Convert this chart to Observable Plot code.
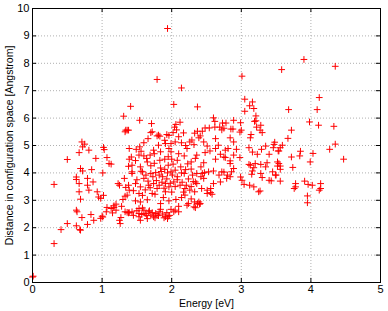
<!DOCTYPE html>
<html>
<head>
<meta charset="utf-8">
<script src="https://cdn.jsdelivr.net/npm/d3@7"></script>
<script src="https://cdn.jsdelivr.net/npm/@observablehq/plot@0.6"></script>
<style>
  html, body { margin: 0; padding: 0; background: #fff; }
  #chart { width: 388px; height: 311px; }
</style>
</head>
<body>
<div id="chart"></div>
<script>
// Tick values
const xTicks = [0, 1, 2, 3, 4, 5];
const yTicks = [0, 1, 2, 3, 4, 5, 6, 7, 8, 9, 10];
const xLabel = "Energy [eV]";
const yLabel = "Distance in configuration space [Angstrom]";

// [energy eV, distance Angstrom], grouped by region
const leftPoints = [[0.0,0.20],[0.01,0.23],[0.31,1.42],[0.41,1.93],[0.50,2.15],[0.31,3.58],[0.50,4.49],[0.71,5.13],[0.75,5.05],[0.72,4.95],[0.67,4.74],[0.81,4.83],[0.91,4.53],[1.02,4.93],[1.03,4.85],[1.07,4.56],[1.10,4.34],[1.13,4.32],[0.69,4.16],[0.72,4.07],[0.85,4.12],[1.01,4.00],[0.63,3.85],[0.63,3.76],[0.79,3.80],[0.67,3.61],[0.87,3.67],[0.79,3.55],[0.81,3.37],[0.67,3.31],[0.93,3.31],[0.95,3.12],[0.98,3.07],[1.02,3.18],[0.69,3.04],[0.63,2.64],[0.64,2.58],[0.71,2.37],[0.84,2.48],[0.79,2.12],[0.63,2.07],[0.69,1.91],[0.68,1.93],[0.88,2.27],[0.98,2.34],[1.01,2.39],[1.00,2.42],[1.06,2.58],[1.07,2.74],[1.13,2.70],[1.17,2.74],[1.15,2.54],[1.20,2.64],[1.25,2.27],[1.26,2.15],[1.27,2.37],[1.20,2.86],[1.17,2.80],[1.28,2.78],[1.30,3.03],[1.33,3.15],[1.23,3.61],[1.25,3.55],[1.32,3.80],[1.34,3.47],[1.39,3.37],[1.33,2.58],[1.36,2.56],[1.39,2.55],[1.39,4.89],[1.33,5.50],[1.38,4.24],[1.39,4.50],[1.31,6.07],[1.34,5.56],[1.38,5.56]];

const coreUpperPoints = [[1.41,6.43],[2.03,6.50],[2.37,6.41],[1.54,5.92],[1.36,5.56],[1.71,5.80],[2.06,5.77],[2.12,5.85],[1.70,5.47],[1.79,5.35],[1.83,5.34],[1.66,5.25],[1.96,5.37],[2.02,5.47],[2.07,5.57],[2.17,5.46],[2.10,5.32],[2.26,5.13],[2.32,5.03],[2.41,5.35],[2.39,5.28],[1.90,5.19],[1.91,5.07],[1.99,5.07],[2.05,5.13],[1.81,5.01],[1.74,4.83],[1.54,4.95],[1.49,4.86],[1.42,4.58],[1.53,4.65],[1.56,4.79],[1.64,4.53],[1.69,4.65],[1.84,4.77],[1.96,4.89],[1.99,4.77],[1.95,4.59],[1.83,4.46],[2.08,4.46],[2.22,4.89],[2.34,4.53],[2.36,4.65],[1.43,4.28],[1.55,4.22],[1.56,4.06],[1.70,4.26],[1.84,4.18],[1.90,4.13],[1.95,4.28],[2.13,4.22],[2.23,4.33],[2.28,4.14],[2.42,4.22],[1.43,4.04],[1.77,4.01],[1.99,4.04],[2.14,4.00],[2.36,3.98],[1.79,7.41],[2.14,7.10],[1.94,9.27],[1.72,5.50],[1.81,5.38],[1.93,5.40],[2.04,5.67],[2.14,5.10],[2.29,5.20],[2.33,5.45],[2.37,5.52],[1.65,4.40],[1.75,4.35],[2.00,4.50],[2.18,4.62],[1.60,5.10]];

const coreLowerPoints = [[1.43,3.98],[1.58,4.04],[1.63,3.92],[1.70,3.98],[1.82,3.92],[1.87,3.86],[1.94,4.00],[2.01,3.92],[2.08,3.86],[2.18,3.98],[2.30,3.92],[2.42,3.86],[1.38,3.55],[1.48,3.61],[1.55,3.49],[1.67,3.55],[1.74,3.61],[1.79,3.43],[1.91,3.61],[1.96,3.49],[2.03,3.67],[2.12,3.55],[2.19,3.43],[2.26,3.37],[2.36,3.61],[2.43,3.43],[1.36,3.19],[1.53,3.25],[1.72,3.25],[1.76,3.22],[1.91,3.31],[2.19,3.19],[2.33,3.31],[1.48,2.98],[1.55,2.94],[1.84,2.88],[2.06,3.03],[2.10,2.78],[2.24,2.88],[2.33,2.94],[2.40,2.86],[1.38,2.54],[1.43,2.58],[1.53,2.70],[1.53,2.52],[1.60,2.64],[1.62,2.52],[1.67,2.58],[1.70,2.46],[1.72,2.55],[1.74,2.40],[1.77,2.52],[1.79,2.46],[1.82,2.58],[1.84,2.67],[1.87,2.50],[1.91,2.40],[1.94,2.33],[1.95,2.42],[1.99,2.67],[1.55,2.27],[1.65,2.33],[1.53,2.40],[2.03,2.58],[2.05,2.64],[2.10,2.58],[2.22,2.82],[2.32,2.76],[2.34,2.73],[2.37,2.88],[2.39,2.94]];

const coreDensePoints = [[1.57,2.48],[1.64,2.44],[1.68,2.62],[1.76,2.36],[1.81,2.44],[1.89,2.36],[1.93,2.55],[1.97,2.45],[1.45,2.45],[1.50,2.62],[1.58,2.72],[1.62,3.38],[1.66,3.70],[1.69,3.46],[1.73,3.86],[1.78,3.72],[1.82,3.55],[1.86,3.66],[1.89,3.44],[1.93,3.78],[1.98,3.62],[2.00,3.30],[2.05,3.50],[2.08,3.75],[2.15,3.66],[2.17,3.30],[2.21,3.55],[2.24,3.78],[2.28,3.50],[2.31,3.68],[1.85,4.05],[2.05,4.10],[2.20,4.12],[1.60,3.80],[1.50,3.75],[1.45,3.35],[1.58,3.18],[1.65,3.02],[1.88,3.10],[1.96,2.98],[2.14,3.10],[2.28,3.05],[1.48,4.45],[1.60,4.62],[1.75,4.70],[1.90,4.50],[2.02,4.32],[2.10,4.70],[2.28,4.40],[2.20,5.00]];

const rightMidPoints = [[3.05,6.69],[3.16,6.59],[3.18,6.35],[3.12,6.45],[3.05,6.25],[2.60,6.01],[2.62,5.88],[2.89,5.92],[2.99,5.83],[3.19,5.88],[3.30,5.47],[3.22,5.67],[2.44,5.52],[2.62,5.67],[2.69,5.67],[2.75,5.63],[2.72,5.57],[2.98,5.49],[2.46,5.13],[2.63,5.25],[2.84,5.28],[2.89,5.13],[3.13,5.28],[2.51,4.98],[2.67,5.01],[2.81,4.89],[2.55,4.80],[2.63,4.89],[2.77,4.83],[2.93,4.86],[3.11,4.92],[3.29,4.86],[3.35,4.98],[3.47,5.04],[3.46,4.92],[2.48,4.74],[2.70,4.68],[2.89,4.65],[3.16,4.76],[3.23,4.68],[3.40,4.68],[3.53,4.80],[2.46,4.37],[2.63,4.50],[2.77,4.56],[2.84,4.44],[2.98,4.56],[3.11,4.31],[3.18,4.19],[3.28,4.31],[3.37,4.37],[3.52,4.25],[2.60,4.07],[2.75,4.03],[2.89,4.16],[3.16,4.07],[2.47,4.01],[3.01,7.53],[3.21,6.08],[3.21,5.90],[3.28,5.74],[3.27,5.56],[3.14,5.40],[3.00,5.56],[2.73,5.82],[2.78,5.82],[2.85,5.60],[2.88,5.60],[2.48,5.64],[2.54,5.64]];

const rightLowPoints = [[2.44,3.98],[2.46,3.80],[2.53,4.04],[2.60,3.61],[2.70,3.67],[2.79,3.80],[2.84,3.86],[2.86,4.04],[2.72,4.04],[2.51,3.37],[2.56,3.28],[2.58,3.22],[2.41,2.88],[3.01,3.73],[3.04,3.58],[3.12,3.55],[3.18,3.49],[3.27,3.34],[3.15,3.95],[3.28,3.98],[3.30,3.83],[3.40,3.73],[3.43,3.71],[3.45,4.04],[3.50,3.92],[2.99,3.85],[3.25,3.31],[3.13,4.28],[3.20,4.34],[3.35,4.22],[2.68,3.92],[2.80,3.92],[2.56,3.43],[2.51,3.25],[2.34,3.67],[2.84,4.34],[2.75,4.58]];

const farRightPoints = [[3.90,8.14],[4.35,7.89],[3.58,7.77],[4.12,6.75],[3.68,6.31],[4.09,6.31],[3.98,5.86],[4.11,5.74],[4.33,5.70],[3.72,5.56],[3.67,5.26],[3.59,5.01],[3.56,4.92],[3.54,4.80],[3.85,4.79],[3.72,4.58],[3.84,4.62],[4.03,4.71],[4.27,4.86],[4.35,5.05],[4.47,4.50],[3.52,4.40],[3.54,4.34],[3.56,4.25],[3.56,4.13],[3.74,4.20],[3.99,4.40],[3.49,3.92],[3.56,3.70],[3.78,3.61],[3.78,3.49],[3.76,3.43],[3.91,3.70],[3.96,3.58],[4.02,3.55],[4.14,3.61],[4.14,3.43],[4.12,3.37],[3.95,3.16],[3.95,2.91],[3.48,5.12]];

const points = [leftPoints, coreUpperPoints, coreLowerPoints, coreDensePoints,
  rightMidPoints, rightLowPoints, farRightPoints].flat()
  .map(([energy, distance]) => ({energy, distance}));

const gridStyle = {stroke: "#b0b0b0", strokeDasharray: "1,2", strokeWidth: 1};
const tickStyle = {stroke: "#000", strokeWidth: 1};

const chart = Plot.plot({
  width: 388,
  height: 311,
  marginLeft: 32,
  marginRight: 8,
  marginTop: 8,
  marginBottom: 29,
  style: {fontFamily: "'Liberation Sans', Arial, Helvetica, sans-serif", fontSize: "11px", background: "#fff", color: "#000"},
  x: {domain: [0, 5], ticks: xTicks, tickSize: 0, tickPadding: 3, label: null, tickFormat: d => String(d)},
  y: {domain: [0, 10], ticks: yTicks, tickSize: 0, tickPadding: 3, label: null, tickFormat: d => String(d)},
  marks: [
    Plot.ruleX(xTicks.slice(1, -1), gridStyle),
    Plot.ruleY(yTicks.slice(1, -1), gridStyle),
    Plot.dot(points, {x: "energy", y: "distance", symbol: "plus", r: 2.3, stroke: "#ff0000", strokeWidth: 1}),
    Plot.ruleX(xTicks, {x: d => d, y1: 0, y2: 0.15, ...tickStyle}),
    Plot.ruleX(xTicks, {x: d => d, y1: 10, y2: 9.85, ...tickStyle}),
    Plot.ruleY(yTicks, {y: d => d, x1: 0, x2: 0.06, ...tickStyle}),
    Plot.ruleY(yTicks, {y: d => d, x1: 5, x2: 4.94, ...tickStyle}),
    Plot.frame({stroke: "#000", strokeWidth: 1}),
    Plot.text([xLabel], {frameAnchor: "bottom", lineAnchor: "middle", textAnchor: "middle", dy: 21, fontSize: 10.5}),
    Plot.text([yLabel], {frameAnchor: "left", lineAnchor: "middle", textAnchor: "middle", rotate: -90, dx: -23, fontSize: 10.5})
  ]
});
document.getElementById("chart").appendChild(chart);
</script>
</body>
</html>
